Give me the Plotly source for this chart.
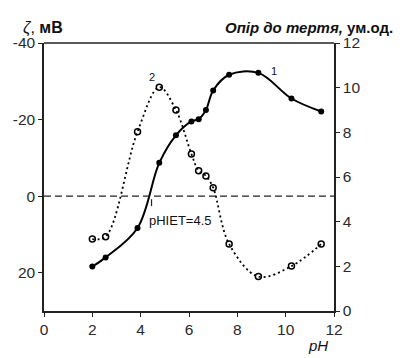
import plotly.graph_objects as go

# Data
ph = [2.0, 2.55, 3.87, 4.77, 5.46, 6.1, 6.4, 6.7, 7.0, 7.66, 8.87, 10.24, 11.47]
zeta = [18.4, 16.0, 8.3, -8.7, -15.9, -19.5, -20.1, -22.5, -27.6, -31.7, -32.2, -25.5, -22.1]
friction = [3.22, 3.33, 8.03, 10.02, 9.0, 7.03, 6.28, 6.05, 5.52, 3.0, 1.54, 2.01, 3.0]

x_ticks = [0, 2, 4, 6, 8, 10, 12]
zeta_ticks = [-40, -20, 0, 20]
zeta_ticklabels = ["-40", "-20", "0", "20"]
fr_ticks = [0, 2, 4, 6, 8, 10, 12]

W, H = 400, 358
L, R, T, B = 44, 334, 43, 311

fig = go.Figure()
fig.add_trace(go.Scatter(
    x=ph, y=friction, yaxis="y2", mode="lines+markers",
    line=dict(color="black", width=1.8, dash="2px,3px", shape="spline", smoothing=1.0),
    marker=dict(symbol="circle-open", size=6, color="black", line=dict(width=1.5)),
    showlegend=False))
fig.add_trace(go.Scatter(
    x=ph, y=zeta, yaxis="y", mode="lines+markers",
    line=dict(color="black", width=2, shape="spline", smoothing=1.0),
    marker=dict(symbol="circle", size=6, color="black"),
    showlegend=False))

tickfont = dict(family="Liberation Sans, Arial, sans-serif", size=15.5, color="#2a2a2a")
axline = dict(showline=True, linecolor="#222", linewidth=1.5, ticks="outside",
              ticklen=4, tickwidth=1.3, tickcolor="#222", showgrid=False,
              zeroline=False, tickfont=tickfont)

fig.update_layout(
    width=W, height=H,
    margin=dict(l=L, r=W - R, t=T, b=H - B),
    paper_bgcolor="white", plot_bgcolor="white",
    xaxis=dict(range=[0, 12], tickvals=x_ticks, **axline),
    yaxis=dict(range=[30, -40], tickvals=zeta_ticks, ticktext=zeta_ticklabels, **axline),
    yaxis2=dict(range=[0, 12], tickvals=fr_ticks, overlaying="y", side="right", **axline),
)

# top frame line
fig.add_shape(type="line", xref="paper", yref="paper", x0=0, x1=1, y0=1, y1=1,
              line=dict(color="#222", width=1.5))
# zero line for zeta
fig.add_shape(type="line", xref="x", yref="y", x0=0, x1=12, y0=0, y1=0,
              line=dict(color="#222", width=1.3, dash="7px,4px"))
# small IEP marker
fig.add_shape(type="line", xref="x", yref="y", x0=4.45, x1=4.45, y0=0.8, y1=2.6,
              line=dict(color="#222", width=1.2))

def px(xp):
    return (xp - L) / (R - L)

def py(yp):
    return (B - yp) / (B - T)

afont = dict(family="Liberation Sans, Arial, sans-serif", color="#111")
fig.add_annotation(text="2", x=4.47, y=10.49, xref="x", yref="y2", showarrow=False,
                   font=dict(size=11, **afont))
fig.add_annotation(text="1", x=9.51, y=-32.7, xref="x", yref="y", showarrow=False,
                   font=dict(size=11, **afont))
fig.add_annotation(text="pHIET=4.5", x=4.26, y=6.3, xref="x", yref="y", showarrow=False,
                   xanchor="left", font=dict(size=13, **afont))
fig.add_annotation(text="<i>ζ</i>, <b>мВ</b>", x=px(21), y=py(17), xref="paper", yref="paper",
                   showarrow=False, xanchor="left", font=dict(size=16, **afont))
fig.add_annotation(text="<b><i>Опір до тертя,</i> ум.од.</b>", x=px(395), y=py(17),
                   xref="paper", yref="paper", showarrow=False, xanchor="right",
                   font=dict(size=15, **afont))
fig.add_annotation(text="<i>pH</i>", x=px(330), y=py(356), xref="paper", yref="paper",
                   showarrow=False, yanchor="bottom", font=dict(size=15, **afont))

fig.write_html("out.html")
